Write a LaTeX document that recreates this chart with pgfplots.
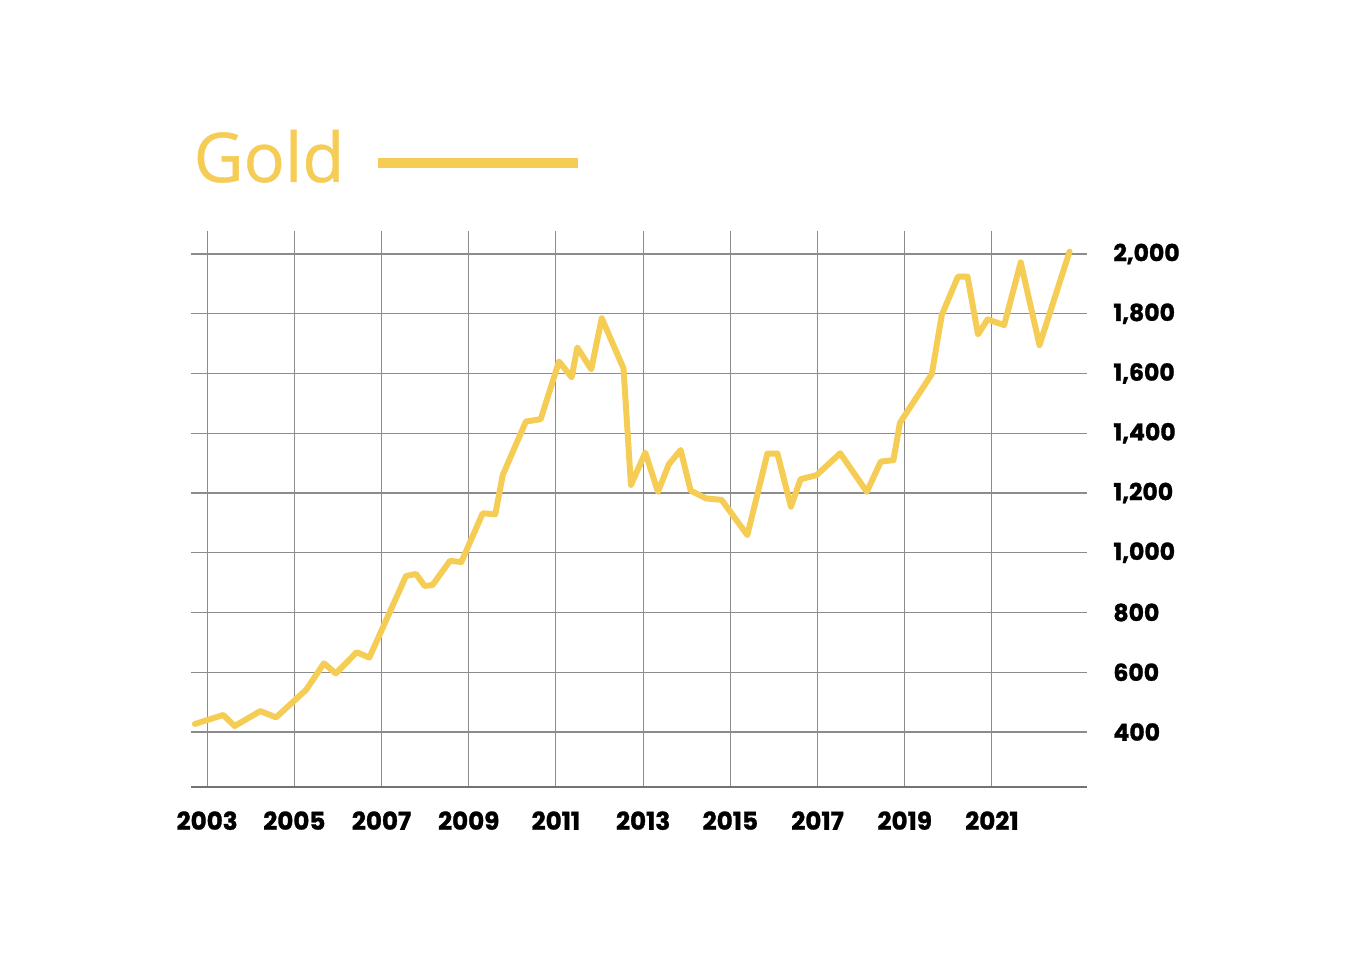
\documentclass[border=0pt]{standalone}
\usepackage{pgfplots}
\pgfplotsset{compat=1.18}
\usepackage{fontspec}
\setmainfont{Poppins}[BoldFeatures={FakeBold=1.2}]
\newfontfamily\titlefont{Open Sans}[FakeBold=0.6]
\definecolor{gold}{HTML}{F5CD55}
\pgfplotstableread{
x y
2002.72 427
2003.37 457
2003.63 420
2004.22 470
2004.58 449
2005.27 541
2005.68 630
2005.95 596
2006.43 667
2006.72 649
2007.56 922
2007.79 929
2007.99 889
2008.17 892
2008.57 973
2008.83 969
2009.32 1132
2009.61 1129
2009.78 1260
2010.31 1439
2010.65 1447
2011.07 1640
2011.36 1587
2011.49 1687
2011.81 1614
2012.05 1785
2012.55 1617
2012.72 1227
2013.05 1335
2013.34 1204
2013.59 1296
2013.86 1344
2014.09 1208
2014.44 1182
2014.80 1177
2015.39 1059
2015.85 1332
2016.08 1332
2016.39 1154
2016.61 1246
2016.98 1260
2017.52 1333
2018.13 1204
2018.45 1305
2018.74 1310
2018.89 1435
2019.62 1598
2019.85 1796
2020.22 1924
2020.44 1924
2020.68 1731
2020.90 1781
2021.28 1762
2021.66 1972
2022.09 1695
2022.78 2008
}\gold
\begin{document}
\begin{tikzpicture}
\path[use as bounding box] (0,0) rectangle (13.65cm,9.65cm);
\begin{axis}[
  at={(1.91cm,1.78cm)}, anchor=south west,
  scale only axis, width=8.96cm, height=5.56cm,
  xmin=2002.63, xmax=2023.18, ymin=216, ymax=2077,
  xtick={2003,2005,...,2021}, ytick={400,600,...,2000},
  axis x line*=bottom, axis y line*=right,
  y axis line style={draw=none},
  x axis line style={draw=black!55, line width=0.3pt},
  major tick length=0pt,
  grid=major,
  major grid style={draw=black!45, line width=0.3pt},
  xticklabel style={/pgf/number format/1000 sep=, font=\fontsize{7}{8}\selectfont\bfseries, yshift=-1.2mm},
  yticklabel style={/pgf/number format/1000 sep={,}, font=\fontsize{6.7}{8}\selectfont\bfseries, anchor=west, xshift=1.4mm},
  /pgf/number format/assume math mode=true,
  clip=false,
]
\addplot[gold, line width=1.7pt, line join=round, line cap=round] table[x=x,y=y] {\gold};
\end{axis}
\node[anchor=base west, inner sep=0pt, text=gold, font=\titlefont\fontsize{19.5}{22}\selectfont] at (1.93cm,7.83cm) {Gold};
\fill[gold] (3.78cm,7.97cm) rectangle (5.78cm,8.07cm);
\end{tikzpicture}
\end{document}
